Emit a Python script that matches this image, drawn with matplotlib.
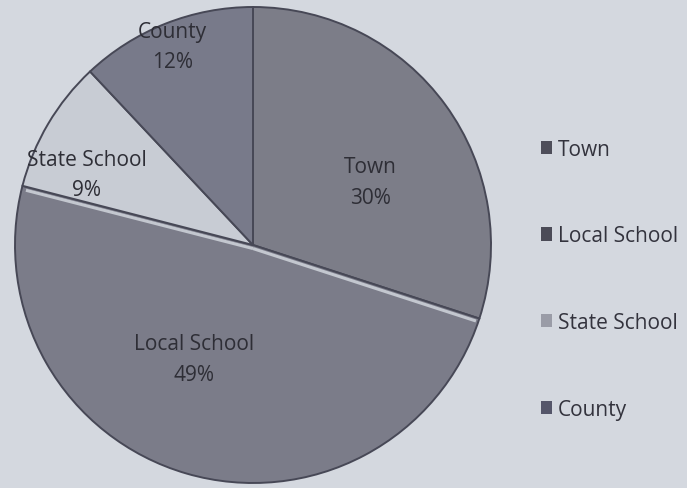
import matplotlib
matplotlib.use('Agg')
import numpy as np
from matplotlib import pyplot as plt
from matplotlib.patches import Patch

names = ['Town', 'Local School', 'State School', 'County']
shares = [30, 49, 9, 12]
slice_colors = ['#7c7d88', '#7b7c89', '#c8ccd4', '#787a8a']
key_colors = ['#4e4e5a', '#4b4b57', '#9a9ca7', '#55566a']
# where each label sits: (angle offset from slice middle in deg, fraction of radius)
label_place = [(-7.7, 0.56), (-11.2, 0.54), (7.6, 0.76), (0.4, 0.90)]

plt.rcParams['font.family'] = ['Open Sans', 'DejaVu Sans']
bg = '#d4d8df'

fig = plt.figure(figsize=(6.87, 4.89), dpi=100)
fig.patch.set_facecolor(bg)
ax = fig.add_axes([15 / 687, 5 / 489, 476 / 687, 476 / 489])
ax.set_facecolor(bg)

wedges, texts = ax.pie(shares, colors=slice_colors, startangle=90,
                       counterclock=False, radius=1,
                       wedgeprops=dict(edgecolor='#474856', linewidth=1.4))

# light bevel just under the top edge of the Local School slice
a = np.deg2rad(wedges[1].theta2)
b = np.deg2rad(wedges[1].theta1)
for ang in (a, b):
    ax.plot([0.0, 0.985 * np.cos(ang)], [-0.015, 0.985 * np.sin(ang) - 0.015],
            color='#c3c7cf', lw=2.2, solid_capstyle='butt', zorder=3)

for w, name, val, (da, r) in zip(wedges, names, shares, label_place):
    mid = np.deg2rad((w.theta1 + w.theta2) / 2 + da)
    ax.text(r * np.cos(mid), r * np.sin(mid), f'{name}\n{val}%',
            ha='center', va='center', fontsize=15, color='#2e2e36',
            linespacing=1.6, zorder=4)

ax.set_xlim(-1, 1)
ax.set_ylim(-1, 1)
ax.set_aspect('equal')
ax.axis('off')

handles = [Patch(facecolor=c, edgecolor='none') for c in key_colors]
leg = fig.legend(handles, names, loc='center left', bbox_to_anchor=(0.760, 0.427),
                 frameon=False, fontsize=15, labelspacing=3.15,
                 handlelength=0.55, handleheight=0.6, handletextpad=0.25,
                 labelcolor='#33333d')

fig.savefig('out.png', dpi=100, facecolor=bg)
